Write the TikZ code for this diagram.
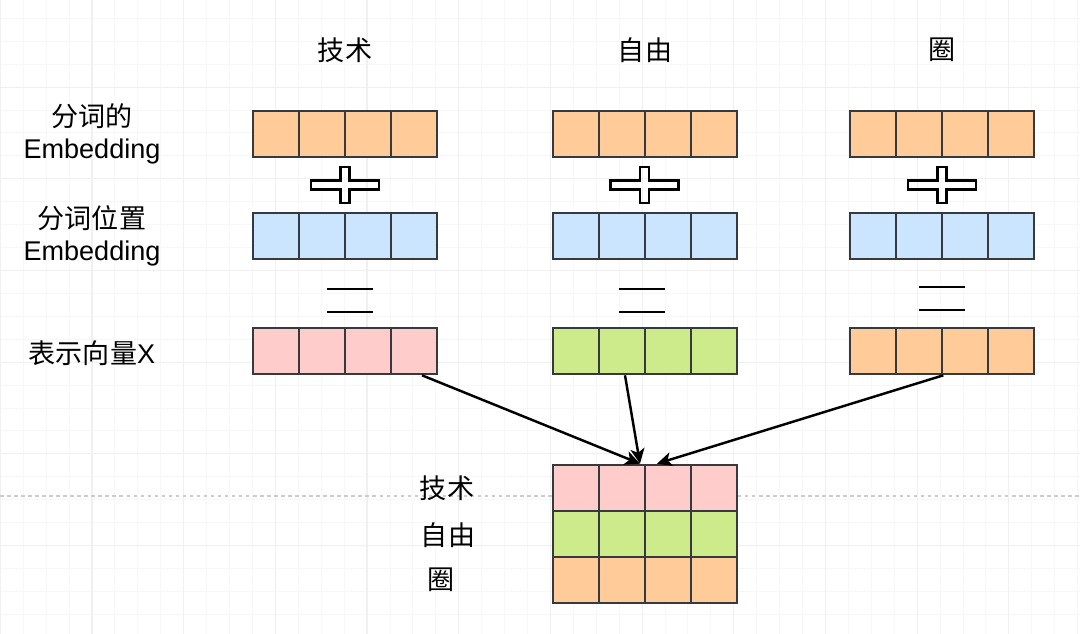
\documentclass[tikz,border=0pt]{standalone}
\usepackage{fontspec}
\setmainfont{Liberation Sans}
\newfontfamily\cjk{Noto Sans CJK SC}
\usetikzlibrary{arrows.meta,calc}

\definecolor{embo}{HTML}{FFCC99}
\definecolor{posb}{HTML}{CCE5FF}
\definecolor{redp}{HTML}{FFCCCC}
\definecolor{grng}{HTML}{CDEB8B}
\definecolor{edge}{HTML}{36393D}

\tikzset{
  cell/.style={draw=edge, line width=1.5pt, minimum size=0.92cm, inner sep=0pt},
  lab/.style={font=\fontsize{15.4}{18.2}\selectfont, align=center, inner sep=0pt},
  arr/.style={line width=1.4pt, -{Stealth[length=0.3cm, width=0.28cm, inset=0.08cm]}},
}

\begin{document}
\begin{tikzpicture}[x=0.02cm, y=-0.02cm]
        \useasboundingbox (0,0) rectangle (1080,634);
        \fill[white] (0,0) rectangle (1080,634);
        % grid
        \foreach \g in {0,...,47}
          \draw[gray!6, line width=0.5pt] ({0.3+\g*22.92},0) -- ({0.3+\g*22.92},634);
        \foreach \g in {1,...,28}
          \draw[gray!6, line width=0.5pt] (0,{-4.6+\g*22.92}) -- (1080,{-4.6+\g*22.92});
        \foreach \g in {0,...,11}
          \draw[gray!12, line width=0.6pt] ({0.3+\g*91.68},0) -- ({0.3+\g*91.68},634);
        \foreach \g in {1,...,6}
          \draw[gray!12, line width=0.6pt] (0,{-4.6+\g*91.68}) -- (1080,{-4.6+\g*91.68});
        \draw[gray!40, line width=0.8pt, dash pattern=on 2pt off 2pt] (0,496) -- (1080,496);
        % titles
        \node[lab] (ta) at (345,50) {\cjk 技术};
        \node[lab] (tb) at (645,50) {\cjk 自由};
        \node[lab] (tc) at (942,50) {\cjk 圈};
        % row labels
        \node[lab] (lw) at (92,134) {{\cjk 分词的}\\Embedding};
        \node[lab] (lp) at (92,236) {{\cjk 分词位置}\\Embedding};
        \node[lab] (lx) at (92,353) {{\cjk 表示向量}X};
        % vectors and matrix
        \foreach \v/\x/\y/\c in {wa/253/111/embo, wb/553/111/embo, wc/850/111/embo,
            pa/253/213/posb, pb/553/213/posb, pc/850/213/posb,
            xa/253/328/redp, xb/553/328/grng, xc/850/328/embo,
            ma/553/465/redp, mb/553/511/grng, mc/553/557/embo}
          \foreach \i in {1,...,4}
            \node[cell, fill=\c] (\v\i) at ({\x+23+(\i-1)*46},{\y+23}) {};
        % plus and equals signs
        \foreach \px in {345,644.5,942}
          \draw[line width=1.5pt] ({\px-4.5},167) -- ++(9,0) -- ++(0,13.5) -- ++(29.5,0)
            -- ++(0,9) -- ++(-29.5,0) -- ++(0,13.5) -- ++(-9,0) -- ++(0,-13.5)
            -- ++(-29.5,0) -- ++(0,-9) -- ++(29.5,0) -- cycle;
        \foreach \ex/\ey in {327/289, 619/289, 919/287} {
          \draw[line width=1.4pt] (\ex,\ey) -- ++(45.5,0);
          \draw[line width=1.4pt] (\ex,\ey+23) -- ++(45.5,0);
        }
        % matrix labels
        \node[lab] (ka) at (447,488) {\cjk 技术};
        \node[lab] (kb) at (448,535) {\cjk 自由};
        \node[lab] (kc) at (441,580) {\cjk 圈};
        % arrows
        \draw[arr] ($(xa4.south)+(8,0)$) -- ($(ma2.north)+(18,0)$);
        \draw[arr] ($(xb2.south)+(3,0)$) -- ($(ma2.north)+(18,0)$);
        \draw[arr] (xc2.south east) -- ($(ma3.north)+(-11,0)$);
      \end{tikzpicture}
\end{document}
